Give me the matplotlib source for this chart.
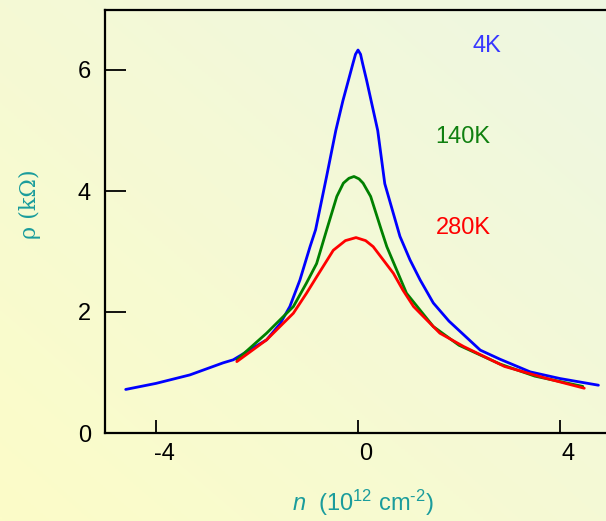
import numpy as np
import matplotlib
matplotlib.use('Agg')
import matplotlib.pyplot as plt
import matplotlib.transforms as mtransforms
from matplotlib.colors import LinearSegmentedColormap

plt.rcParams['font.family'] = ['Liberation Sans', 'DejaVu Sans']
plt.rcParams['mathtext.fontset'] = 'custom'
plt.rcParams['mathtext.rm'] = 'Liberation Sans'
plt.rcParams['mathtext.it'] = 'Liberation Sans:italic'

# datos (n en 1e12 cm^-2, rho en kOhm)
n_4k = [-4.6, -4.0, -3.33, -2.67, -2.47, -1.81, -1.54, -1.35, -1.15, -0.95, -0.84, -0.62,
        -0.44, -0.30, -0.19, -0.10, -0.05, 0.0, 0.05, 0.09, 0.17, 0.26, 0.39, 0.53,
        0.83, 1.03, 1.23, 1.49, 1.80, 2.42, 2.81, 3.41, 4.0, 4.76]
rho_4k = [0.72, 0.82, 0.96, 1.16, 1.21, 1.54, 1.81, 2.09, 2.53, 3.08, 3.36, 4.25,
          5.00, 5.49, 5.83, 6.11, 6.26, 6.33, 6.26, 6.11, 5.83, 5.49, 5.00, 4.12,
          3.25, 2.86, 2.53, 2.15, 1.85, 1.37, 1.22, 1.01, 0.90, 0.79]

n_140k = [-2.40, -1.81, -1.28, -1.02, -0.82, -0.62, -0.42, -0.29, -0.18, -0.08, 0.02, 0.10,
          0.25, 0.46, 0.57, 0.96, 1.49, 2.0, 2.81, 3.5, 4.45]
rho_140k = [1.21, 1.65, 2.09, 2.48, 2.80, 3.36, 3.91, 4.13, 4.21, 4.24, 4.20, 4.13,
            3.91, 3.36, 3.08, 2.31, 1.76, 1.45, 1.14, 0.94, 0.77]

n_280k = [-2.40, -1.81, -1.28, -1.02, -0.82, -0.49, -0.25, -0.04, 0.15, 0.30, 0.70, 0.89,
          1.10, 1.43, 1.62, 2.09, 2.9, 3.74, 4.48]
rho_280k = [1.18, 1.54, 1.98, 2.31, 2.58, 3.02, 3.18, 3.23, 3.18, 3.08, 2.64, 2.36,
            2.09, 1.81, 1.65, 1.43, 1.10, 0.90, 0.74]

series = [
    ('4K', n_4k, rho_4k, '#0000ff', '#3838ff', (2.55, 6.40)),
    ('140K', n_140k, rho_140k, '#008000', '#108010', (2.08, 4.89)),
    ('280K', n_280k, rho_280k, '#ff0000', '#ff0000', (2.08, 3.39)),
]

teal = '#1a9c9c'

fig = plt.figure(figsize=(6.06, 5.21), dpi=100)

# fondo degradado amarillo claro
bg = fig.add_axes([0, 0, 1, 1], zorder=-10)
cmap = LinearSegmentedColormap.from_list('bg', ['#fcfcc8', '#eef7e2'])
gx, gy = np.meshgrid(np.linspace(0, 1, 200), np.linspace(0, 1, 200))
bg.imshow((gx + gy) / 2, cmap=cmap, origin='lower', extent=[0, 1, 0, 1],
          aspect='auto', vmin=0, vmax=1)
bg.axis('off')

ax = fig.add_axes([105 / 606, 1 - 433 / 521, 1 - 105 / 606, (433 - 9.5) / 521])
ax.patch.set_alpha(0)

for name, x, y, c, tc, pos in series:
    ax.plot(x, y, color=c, lw=2.0, solid_capstyle='round', solid_joinstyle='round')
    ax.text(pos[0], pos[1], name, color=tc, fontsize=17, ha='center', va='center')

ax.set_xlim(-5.01, 4.91)
ax.set_ylim(0, 7)
ax.set_xticks([-4, 0, 4])
ax.set_yticks([0, 2, 4, 6])
ax.set_xticklabels(['-4', '0', '4'])

ax.spines['right'].set_visible(False)
for s in ['left', 'bottom', 'top']:
    ax.spines[s].set_linewidth(1.6)

ax.tick_params(axis='y', direction='in', length=15, width=1.3, labelsize=17, pad=10)
ax.tick_params(axis='x', direction='in', length=9.5, width=1.3, labelsize=17, pad=7)

# las etiquetas del eje x están algo desplazadas a la derecha en el original
offset = mtransforms.ScaledTranslation(8 / 100, 0, fig.dpi_scale_trans)
for lab in ax.get_xticklabels():
    lab.set_transform(lab.get_transform() + offset)

fig.text(363 / 606, 1 - 503 / 521, r'$\it{n}$  (10$^{12}$ cm$^{\text{-2}}$)', color=teal,
         fontsize=17, ha='center', va='center')
fig.text(30 / 606, 1 - 204 / 521, 'ρ (kΩ)', color=teal, fontsize=16, rotation=90,
         ha='center', va='center', family=['DejaVu Serif', 'DejaVu Sans'])

fig.savefig('out.png', dpi=100)
